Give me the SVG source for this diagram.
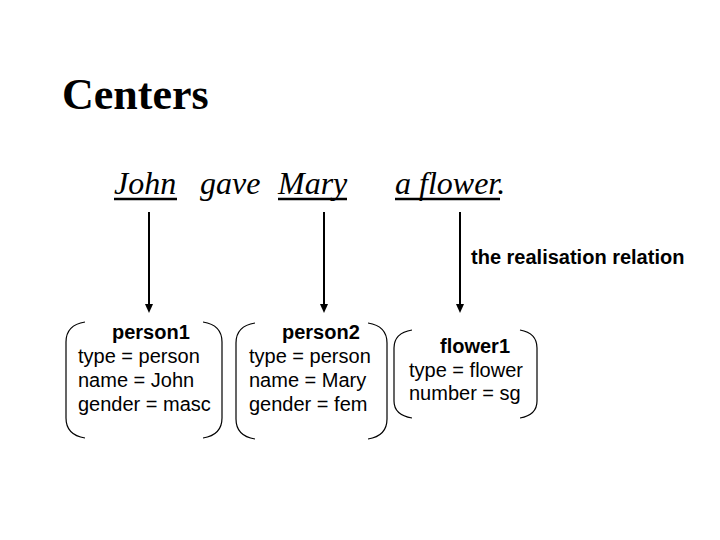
<svg xmlns="http://www.w3.org/2000/svg" width="720" height="540" viewBox="0 0 720 540">
<defs>
<style>
.title{font-family:"Liberation Serif","Times New Roman",serif;font-weight:bold;font-size:44px;fill:#000}
.sent{font-family:"Liberation Serif","Times New Roman",serif;font-style:italic;font-size:32px;fill:#000}
.lab{font-family:"Liberation Sans",Arial,sans-serif;font-size:20px;fill:#000}
.hd{font-weight:bold}
.rel{font-family:"Liberation Sans",Arial,sans-serif;font-size:20px;font-weight:bold;fill:#000}
.ul{stroke:#000;stroke-width:2.5}
.br{fill:none;stroke:#000;stroke-width:1.2}
.conn{stroke:#000;stroke-width:2}
.head{fill:#000}
</style>
</defs>
<rect width="720" height="540" fill="#fff"/>
<text class="title" x="62" y="109">Centers</text>
<g id="sentence">
<text class="sent" x="114" y="194">John</text>
<text class="sent" x="200" y="194">gave</text>
<text class="sent" x="278" y="194">Mary</text>
<text class="sent" x="395" y="194">a flower.</text>
<line class="ul" x1="114" y1="199" x2="177" y2="199"/>
<line class="ul" x1="278" y1="199" x2="347" y2="199"/>
<line class="ul" x1="395" y1="199" x2="500" y2="199"/>
</g>
<text class="rel" x="471" y="264">the realisation relation</text>
<g id="connectors">
<line class="conn" x1="149" y1="212" x2="149" y2="305"/>
<path class="head" d="M145,304 L153,304 L149,313 Z"/>
<line class="conn" x1="324" y1="212" x2="324" y2="305"/>
<path class="head" d="M320,304 L328,304 L324,313 Z"/>
<line class="conn" x1="460" y1="212" x2="460" y2="305"/>
<path class="head" d="M456,304 L464,304 L460,313 Z"/>
</g>
<g id="person1">
<path class="br" d="M85,322 Q66,325 66,342 L66,418 Q66,435 85,438"/>
<path class="br" d="M203,322 Q222,325 222,342 L222,418 Q222,435 203,438"/>
<text class="lab hd" x="112" y="339">person1</text>
<text class="lab" x="78" y="363">type = person</text>
<text class="lab" x="78" y="387">name = John</text>
<text class="lab" x="78" y="411">gender = masc</text>
</g>
<g id="person2">
<path class="br" d="M255,323 Q236,326 236,343 L236,419 Q236,436 255,439"/>
<path class="br" d="M368,323 Q387,326 387,343 L387,419 Q387,436 368,439"/>
<text class="lab hd" x="282" y="339">person2</text>
<text class="lab" x="249" y="363">type = person</text>
<text class="lab" x="249" y="387">name = Mary</text>
<text class="lab" x="249" y="411">gender = fem</text>
</g>
<g id="flower1">
<path class="br" d="M412,330 Q394,333 394,348 L394,401 Q394,415 412,418"/>
<path class="br" d="M520,330 Q537,333 537,348 L537,401 Q537,415 520,418"/>
<text class="lab hd" x="440" y="353">flower1</text>
<text class="lab" x="409" y="377">type = flower</text>
<text class="lab" x="409" y="400">number = sg</text>
</g>
</svg>
